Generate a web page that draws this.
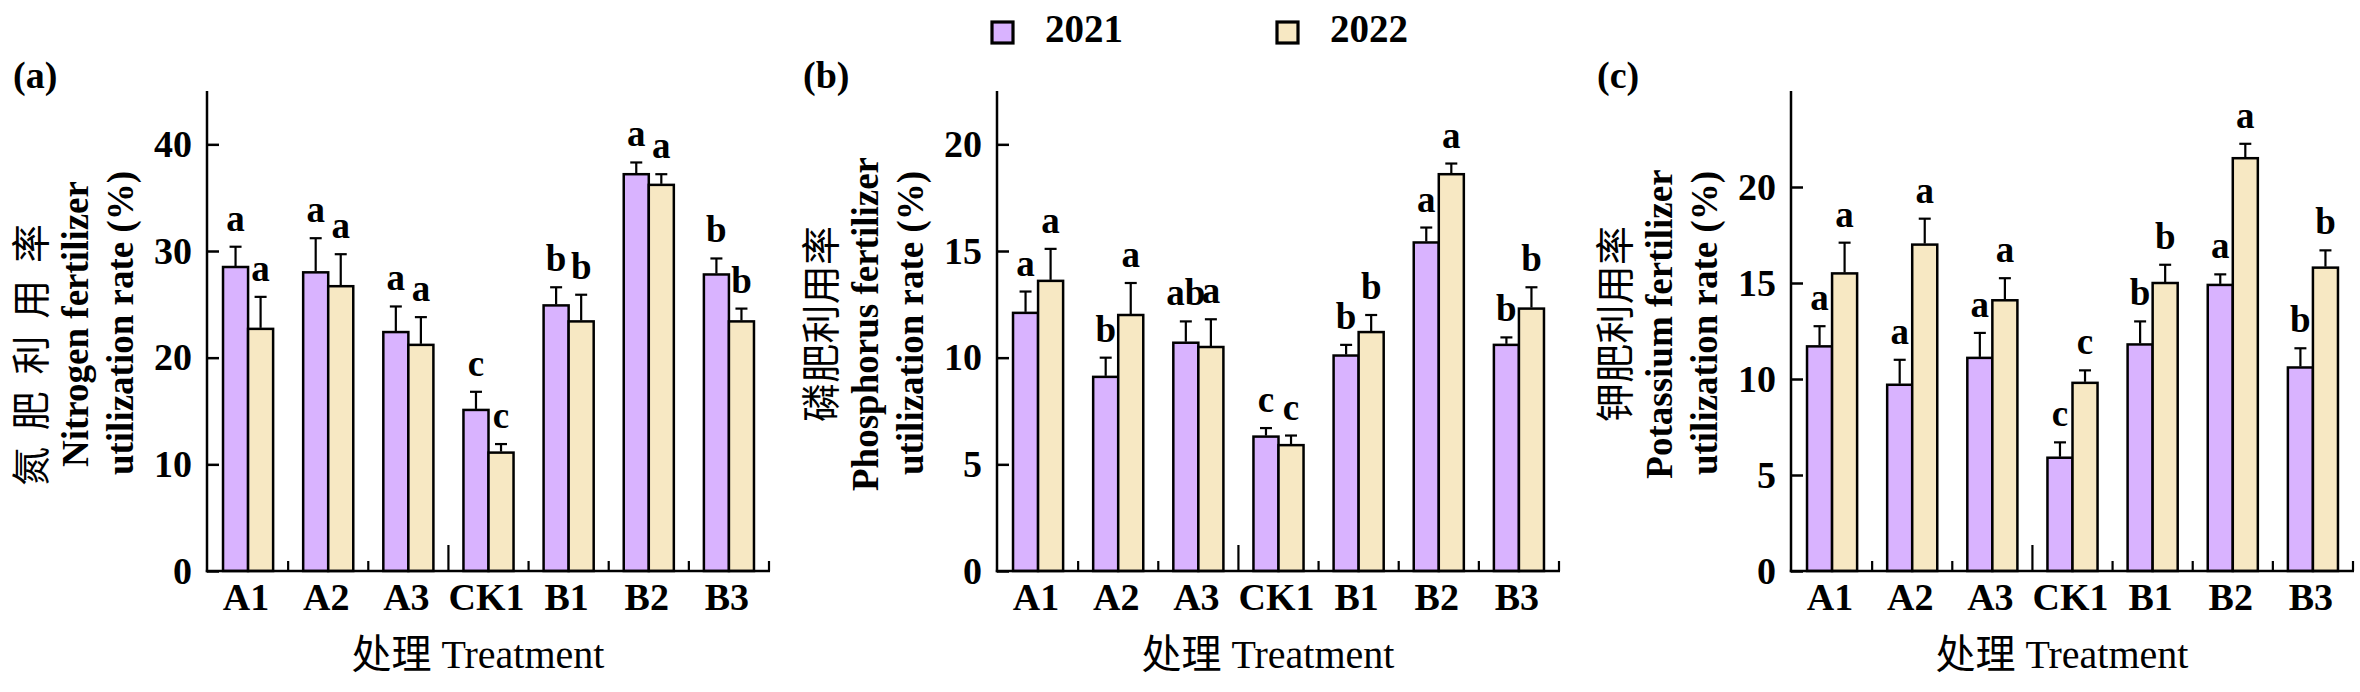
<!DOCTYPE html>
<html>
<head>
<meta charset="utf-8">
<script src="https://cdn.jsdelivr.net/npm/d3@7"></script>
<style>
  body { margin: 0; background: #fff; }
  svg { display: block; }
</style>
</head>
<body>
<div id="chart"></div>
<script>
// treatments and years
var categories = ["A1", "A2", "A3", "CK1", "B1", "B2", "B3"];
var years = ["2021", "2022"];

// nitrogen fertilizer utilization rate (%)
var nitrogen2021 = [28.5, 28.0, 22.4, 15.1, 24.9, 37.2, 27.8];
var nitrogen2022 = [22.7, 26.7, 21.2, 11.1, 23.4, 36.2, 23.4];
var nitrogenErr2021 = [1.9, 3.2, 2.4, 1.7, 1.7, 1.1, 1.5];
var nitrogenErr2022 = [3.0, 3.0, 2.6, 0.8, 2.5, 1.0, 1.2];
var nitrogenSig2021 = ["a", "a", "a", "c", "b", "a", "b"];
var nitrogenSig2022 = ["a", "a", "a", "c", "b", "a", "b"];

// phosphorus fertilizer utilization rate (%)
var phosphorus2021 = [12.1, 9.1, 10.7, 6.3, 10.1, 15.4, 10.6];
var phosphorus2022 = [13.6, 12.0, 10.5, 5.9, 11.2, 18.6, 12.3];
var phosphorusErr2021 = [1.0, 0.9, 1.0, 0.4, 0.5, 0.7, 0.35];
var phosphorusErr2022 = [1.5, 1.5, 1.3, 0.45, 0.8, 0.5, 1.0];
var phosphorusSig2021 = ["a", "b", "ab", "c", "b", "a", "b"];
var phosphorusSig2022 = ["a", "a", "a", "c", "b", "a", "b"];

// potassium fertilizer utilization rate (%)
var potassium2021 = [11.7, 9.7, 11.1, 5.9, 11.8, 14.9, 10.6];
var potassium2022 = [15.5, 17.0, 14.1, 9.8, 15.0, 21.5, 15.8];
var potassiumErr2021 = [1.05, 1.3, 1.3, 0.8, 1.2, 0.55, 1.0];
var potassiumErr2022 = [1.6, 1.35, 1.15, 0.65, 0.95, 0.75, 0.9];
var potassiumSig2021 = ["a", "a", "a", "c", "b", "a", "b"];
var potassiumSig2022 = ["a", "a", "a", "c", "b", "a", "b"];

// axis ticks
var nitrogenTicks = [0, 10, 20, 30, 40];
var phosphorusTicks = [0, 5, 10, 15, 20];
var potassiumTicks = [0, 5, 10, 15, 20];

var serif = "'Liberation Serif', 'Times New Roman', serif";
var cjk = "'Noto Sans CJK SC', sans-serif";
var colors = { "2021": "#d9b3ff", "2022": "#f7e8c3" };

var svg = d3
  .select("#chart")
  .append("svg")
  .attr("width", 2360)
  .attr("height", 692);

//panel settings
var plotTop = 91,
  plotBottom = 571,
  plotWidth = 562;

var panels = [
  {
    tag: "(a)", left: 207, max: 45, ticks: nitrogenTicks,
    cn: "氮肥利用率", en: "Nitrogen fertilizer", cnLength: 262, cnCenter: 355,
    values: [nitrogen2021, nitrogen2022], errors: [nitrogenErr2021, nitrogenErr2022],
    sig: [nitrogenSig2021, nitrogenSig2022]
  },
  {
    tag: "(b)", left: 997, max: 22.5, ticks: phosphorusTicks,
    cn: "磷肥利用率", en: "Phosphorus fertilizer", cnLength: 196, cnCenter: 324,
    values: [phosphorus2021, phosphorus2022], errors: [phosphorusErr2021, phosphorusErr2022],
    sig: [phosphorusSig2021, phosphorusSig2022]
  },
  {
    tag: "(c)", left: 1791, max: 25, ticks: potassiumTicks,
    cn: "钾肥利用率", en: "Potassium fertilizer", cnLength: 196, cnCenter: 324,
    values: [potassium2021, potassium2022], errors: [potassiumErr2021, potassiumErr2022],
    sig: [potassiumSig2021, potassiumSig2022]
  }
];

var drawPanel = function(p) {
  var g = svg.append("g");

  var xScale = d3
    .scaleBand()
    .domain(categories)
    .range([p.left + 1, p.left + plotWidth]);

  //inner scale for the two years
  var xSub = d3
    .scaleBand()
    .domain(years)
    .range([0, xScale.bandwidth()])
    .paddingOuter(0.6);

  var yScale = d3
    .scaleLinear()
    .domain([0, p.max])
    .range([plotBottom, plotTop]);

  //flatten data
  var rows = [];
  categories.forEach(function(c, i) {
    years.forEach(function(y, j) {
      rows.push({
        cat: c, year: y,
        value: p.values[j][i], err: p.errors[j][i], sig: p.sig[j][i]
      });
    });
  });

  //bars
  g.selectAll(".bar")
    .data(rows)
    .enter()
    .append("rect")
    .attr("class", "bar")
    .attr("x", function(d) { return xScale(d.cat) + xSub(d.year); })
    .attr("y", function(d) { return yScale(d.value); })
    .attr("width", xSub.bandwidth())
    .attr("height", function(d) { return yScale(0) - yScale(d.value); })
    .attr("fill", function(d) { return colors[d.year]; })
    .attr("stroke", "#000")
    .attr("stroke-width", 2.5);

  //error bars, upper half only
  var cx = function(d) { return xScale(d.cat) + xSub(d.year) + xSub.bandwidth() / 2; };
  g.selectAll(".err")
    .data(rows)
    .enter()
    .append("line")
    .attr("x1", cx)
    .attr("x2", cx)
    .attr("y1", function(d) { return yScale(d.value) - 1; })
    .attr("y2", function(d) { return yScale(d.value + d.err); })
    .attr("stroke", "#000")
    .attr("stroke-width", 2.2);

  g.selectAll(".cap")
    .data(rows)
    .enter()
    .append("line")
    .attr("x1", function(d) { return cx(d) - 6; })
    .attr("x2", function(d) { return cx(d) + 6; })
    .attr("y1", function(d) { return yScale(d.value + d.err); })
    .attr("y2", function(d) { return yScale(d.value + d.err); })
    .attr("stroke", "#000")
    .attr("stroke-width", 2.2);

  //significance letters
  g.selectAll(".sig")
    .data(rows)
    .enter()
    .append("text")
    .attr("x", cx)
    .attr("y", function(d) { return yScale(d.value + d.err) - 16; })
    .attr("text-anchor", "middle")
    .style("font-family", serif)
    .style("font-weight", "bold")
    .style("font-size", "37px")
    .text(function(d) { return d.sig; });

  //y axis
  var yAxis = d3
    .axisLeft(yScale)
    .tickValues(p.ticks)
    .tickSizeInner(-12)
    .tickSizeOuter(0)
    .tickPadding(15);

  var ya = g
    .append("g")
    .attr("transform", "translate(" + p.left + ",0)")
    .call(yAxis);
  ya.select(".domain").remove();
  ya.selectAll(".tick line").attr("stroke-width", 2.5);
  ya.selectAll(".tick text")
    .style("font-family", serif)
    .style("font-weight", "bold")
    .style("font-size", "38px");

  g.append("line")
    .attr("x1", p.left).attr("x2", p.left)
    .attr("y1", plotTop).attr("y2", plotBottom + 1.2)
    .attr("stroke", "#000")
    .attr("stroke-width", 2.5);

  //x axis line with boundary ticks
  g.append("line")
    .attr("x1", p.left - 1.2).attr("x2", p.left + plotWidth + 1)
    .attr("y1", plotBottom).attr("y2", plotBottom)
    .attr("stroke", "#000")
    .attr("stroke-width", 2.5);

  g.selectAll(".xtick")
    .data(categories)
    .enter()
    .append("line")
    .attr("x1", function(d) { return xScale(d) + xScale.bandwidth(); })
    .attr("x2", function(d) { return xScale(d) + xScale.bandwidth(); })
    .attr("y1", plotBottom)
    .attr("y2", function(d, i) { return i == 2 ? plotBottom - 26 : plotBottom - 10; })
    .attr("stroke", "#000")
    .attr("stroke-width", 2.2);

  g.selectAll(".xlabel")
    .data(categories)
    .enter()
    .append("text")
    .attr("x", function(d) { return xScale(d) + xScale.bandwidth() / 2 - 2; })
    .attr("y", 610)
    .attr("text-anchor", "middle")
    .style("font-family", serif)
    .style("font-weight", "bold")
    .style("font-size", "38px")
    .text(function(d) { return d; });

  //x title
  var xt = g
    .append("text")
    .attr("x", p.left + 271)
    .attr("y", 668)
    .attr("text-anchor", "middle")
    .style("font-size", "40px");
  xt.append("tspan").style("font-family", cjk).text("处理");
  xt.append("tspan").style("font-family", serif).text(" Treatment");

  //y title, three rotated lines
  g.append("text")
    .attr("transform", "translate(" + (p.left - 179) + "," + p.cnCenter + ") rotate(-90)")
    .attr("text-anchor", "middle")
    .attr("dominant-baseline", "central")
    .attr("textLength", p.cnLength)
    .attr("lengthAdjust", "spacing")
    .style("font-family", cjk)
    .style("font-size", "39px")
    .text(p.cn);

  g.append("text")
    .attr("transform", "translate(" + (p.left - 119) + ",324) rotate(-90)")
    .attr("text-anchor", "middle")
    .style("font-family", serif)
    .style("font-weight", "bold")
    .style("font-size", "37px")
    .text(p.en);

  g.append("text")
    .attr("transform", "translate(" + (p.left - 74) + ",323) rotate(-90)")
    .attr("text-anchor", "middle")
    .style("font-family", serif)
    .style("font-weight", "bold")
    .style("font-size", "37px")
    .text("utilization rate (%)");

  //panel tag
  g.append("text")
    .attr("x", p.left - 194)
    .attr("y", 88)
    .style("font-family", serif)
    .style("font-weight", "bold")
    .style("font-size", "38px")
    .text(p.tag);
};

panels.forEach(drawPanel);

//legend
var legendX = [992, 1277];
var legend = svg
  .selectAll(".legend")
  .data(years)
  .enter()
  .append("g")
  .attr("transform", function(d, i) { return "translate(" + legendX[i] + ",22)"; });

legend
  .append("rect")
  .attr("width", 21)
  .attr("height", 21)
  .attr("fill", function(d) { return colors[d]; })
  .attr("stroke", "#000")
  .attr("stroke-width", 3.2);

legend
  .append("text")
  .attr("x", 53)
  .attr("y", 20)
  .style("font-family", serif)
  .style("font-weight", "bold")
  .style("font-size", "39px")
  .text(function(d) { return d; });
</script>
</body>
</html>
